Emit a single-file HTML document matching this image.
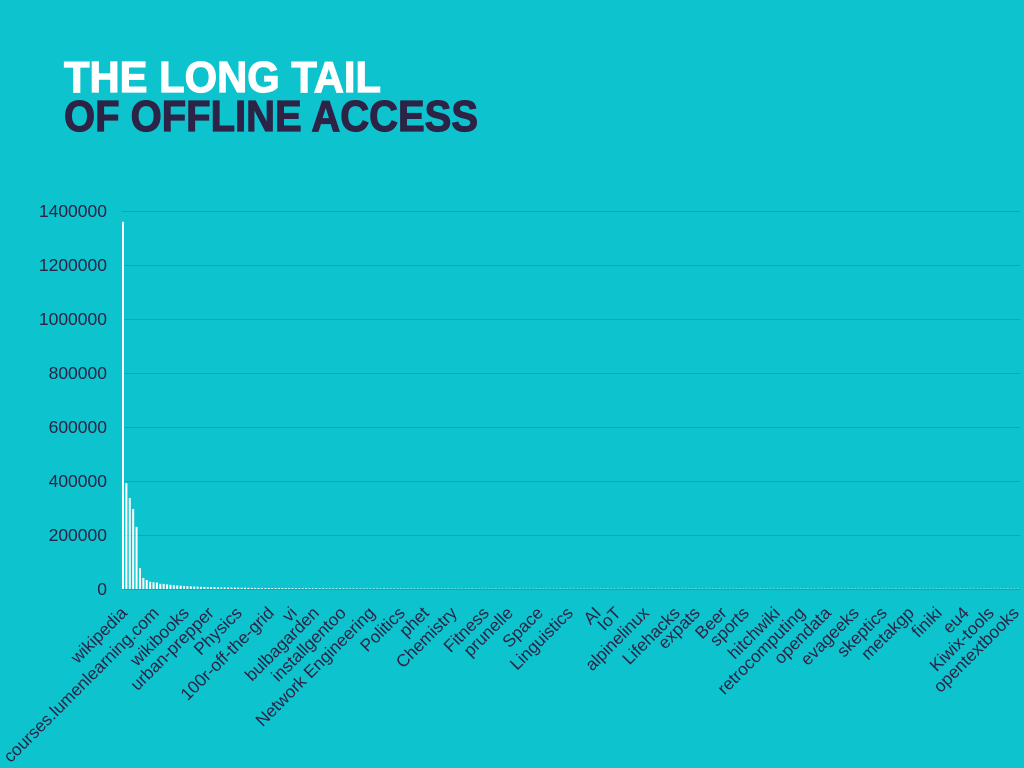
<!DOCTYPE html>
<html><head><meta charset="utf-8"><style>
html,body{margin:0;padding:0;background:#0dc4ce;}
svg{display:block}
</style></head><body>
<svg id="s" width="1024" height="768" xmlns="http://www.w3.org/2000/svg" font-family="Liberation Sans, sans-serif">
<rect width="1024" height="768" fill="#0dc4ce"/>
<text x="64" y="92" font-size="44" font-weight="bold" fill="#ffffff" stroke="#ffffff" stroke-width="1.2" textLength="317" lengthAdjust="spacingAndGlyphs">THE LONG TAIL</text>
<text x="64" y="131" font-size="44" font-weight="bold" fill="#2d2346" stroke="#2d2346" stroke-width="1.2" textLength="414" lengthAdjust="spacingAndGlyphs">OF OFFLINE ACCESS</text>
<g id="grid" stroke="#11a6b1" stroke-width="1"></g>
<g id="yl" font-size="17.5" fill="#2d2346" text-anchor="end"></g>
<g id="bars" fill="#ffffff"></g>
<g id="xl" font-size="17.3" fill="#2d2346" text-anchor="end"></g>
</svg>
<script>
var NS="http://www.w3.org/2000/svg";
function el(t,a,p,txt){var e=document.createElementNS(NS,t);for(var k in a)e.setAttribute(k,a[k]);if(txt)e.textContent=txt;document.getElementById(p).appendChild(e);}
var y0=589,sc=378/1400000;
for(var i=0;i<=7;i++){var y=y0-i*54;el('line',{x1:122,x2:1020,y1:y+0.5,y2:y+0.5},'grid');el('text',{x:107,y:y+6},'yl',String(i*200000));}
var vals=[1360000,392000,337000,296000,230000,78000,41000,33000,27000,25000,24000,19000];
for(var i=0;i<265;i++){var v=i<vals.length?vals[i]:19000*Math.pow(12/i,1.3);var h=v*sc;if(h<0.3)h=0.3;var x=122+i*3.39;el('rect',{x:x.toFixed(2),y:(y0-h).toFixed(2),width:2,height:h.toFixed(2)},'bars');}
var labs=[["wikipedia",130],["courses.lumenlearning.com",162],["wikibooks",192],["urban-prepper",217],["Physics",245],["100r-off-the-grid",277],["vi",300],["bulbagarden",322],["installgentoo",349],["Network Engineering",378],["Politics",408],["phet",432],["Chemistry",460],["Fitness",492],["prunelle",516],["Space",546],["Linguistics",576],["AI",604],["IoT",624],["alpinelinux",652],["Lifehacks",683],["expats",703],["Beer",730],["sports",752],["hitchwiki",783],["retrocomputing",808],["opendata",834],["evageeks",862],["skeptics",890],["metakgp",917],["finiki",945],["eu4",972],["Kiwix-tools",997],["opentextbooks",1022]];
labs.forEach(function(l){var x=l[1]-2,y=614;el('text',{x:x,y:y,transform:'rotate(-45 '+x+' '+y+')'},'xl',l[0]);});
</script>
</body></html>
